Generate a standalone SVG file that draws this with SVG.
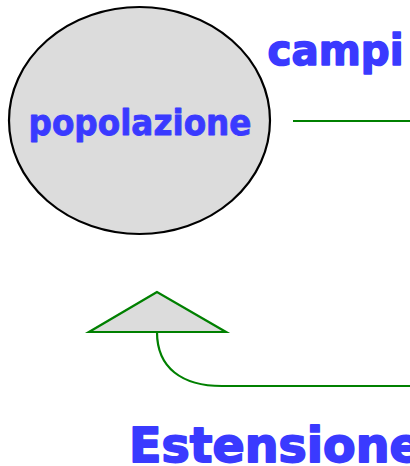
<svg xmlns="http://www.w3.org/2000/svg" width="410" height="466" viewBox="0 0 410 466">
<style>
.t{font-family:"DejaVu Sans",Verdana,sans-serif;font-weight:bold;fill:#3a3aff;stroke:#3a3aff;stroke-linejoin:round}
.c{fill:none;stroke:#008000;stroke-width:2.2}
</style>
<rect width="410" height="466" fill="#fff"/>
<g id="popolazione">
<ellipse cx="139.5" cy="120.5" rx="130.5" ry="113.5" fill="#dcdcdc" stroke="#000" stroke-width="2.2"/>
<text class="t" x="28.5" y="135" font-size="36" stroke-width="0.9" textLength="223" lengthAdjust="spacingAndGlyphs">popolazione</text>
</g>
<g id="campi">
<text class="t" x="267.5" y="65" font-size="42" stroke-width="1.6" textLength="136" lengthAdjust="spacingAndGlyphs">campi</text>
</g>
<g id="triangolo">
<polygon points="157,292 89,332 226,332" fill="#dcdcdc" stroke="#008000" stroke-width="2.2"/>
</g>
<g id="estensione">
<text class="t" x="129" y="461.5" font-size="47.5" stroke-width="1.8">Estensione</text>
</g>
<g id="connectors">
<line class="c" x1="293" y1="121" x2="410" y2="121"/>
<path class="c" d="M157,332 C157,368 182,386 222,386 L410,386"/>
</g>
</svg>
